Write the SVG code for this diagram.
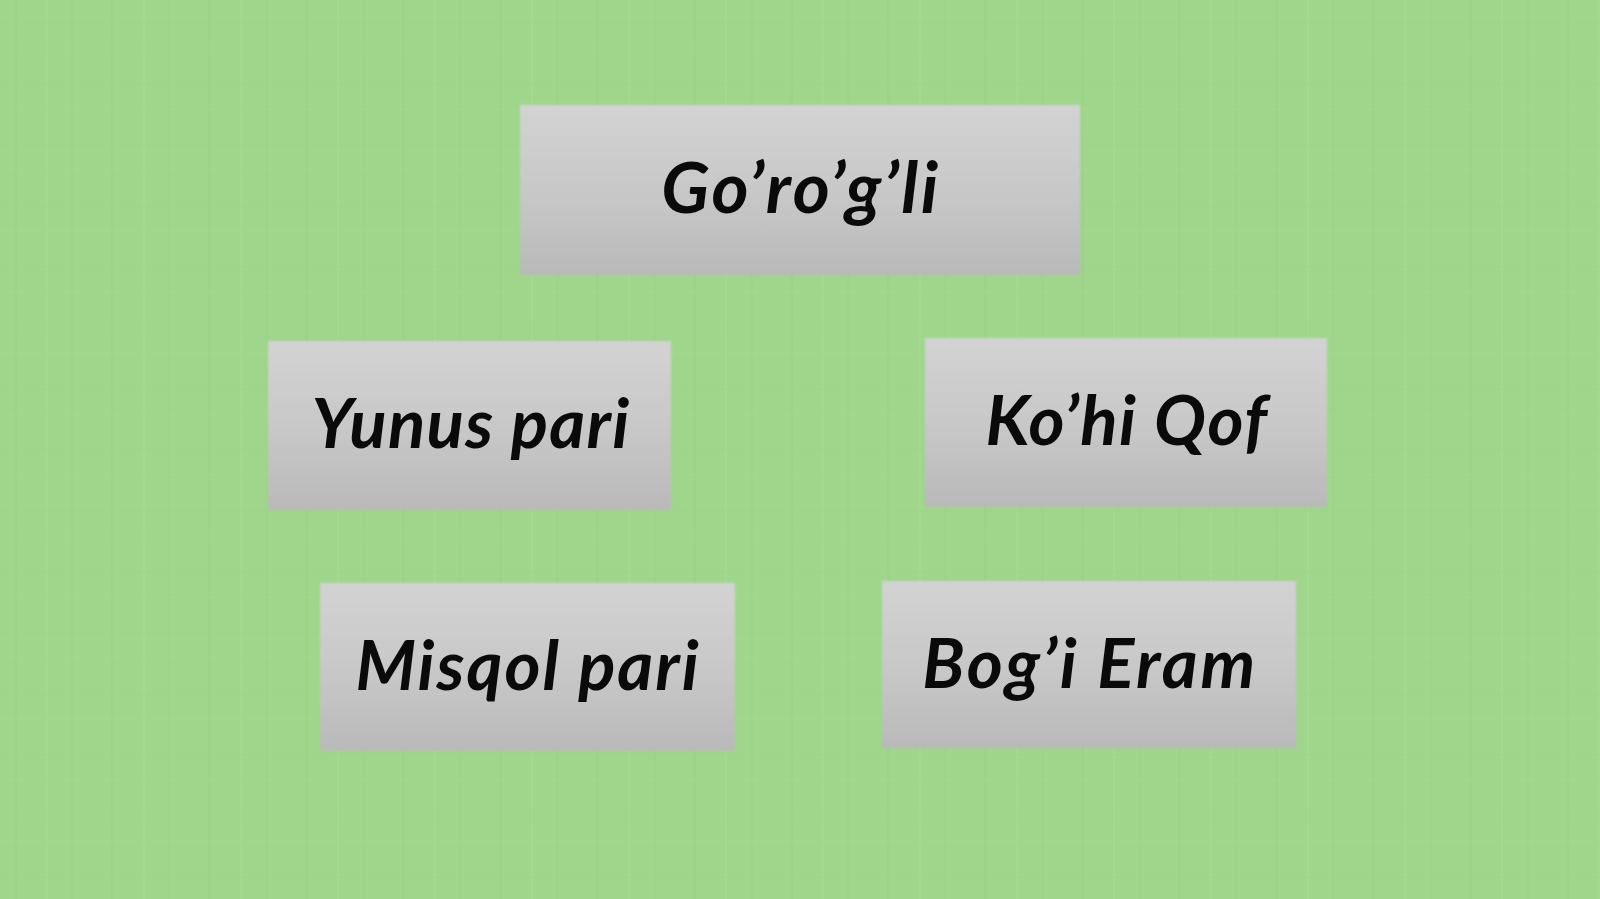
<svg xmlns="http://www.w3.org/2000/svg" width="1600" height="899" viewBox="0 0 1600 899">
  <defs>
    <linearGradient id="boxGrad" x1="0" y1="0" x2="0" y2="1">
      <stop offset="0" stop-color="#d3d3d3"/>
      <stop offset="0.55" stop-color="#c7c7c7"/>
      <stop offset="1" stop-color="#b9b9b9"/>
    </linearGradient>
    <pattern id="weave" x="0" y="0" width="97" height="61" patternUnits="userSpaceOnUse">
      <rect x="0" y="0" width="97" height="61" fill="#9ed58a"/>
      <rect x="14" y="0" width="3" height="61" fill="#93cb80" opacity="0.5"/>
      <rect x="46" y="0" width="2" height="61" fill="#a9dd96" opacity="0.6"/>
      <rect x="71" y="0" width="3" height="61" fill="#94cc81" opacity="0.4"/>
      <rect x="0" y="22" width="97" height="2" fill="#93cb80" opacity="0.25"/>
      <rect x="0" y="47" width="97" height="2" fill="#a8dc95" opacity="0.3"/>
    </pattern>
    <filter id="soft" x="-5%" y="-5%" width="110%" height="110%">
      <feGaussianBlur stdDeviation="1.2"/>
    </filter>
  </defs>
  <style>
    .box { fill: url(#boxGrad); }
    .label { font-family: Lato, "Liberation Sans", sans-serif; font-weight: bold; font-style: italic; fill: #0a0a0a; text-anchor: middle; }
  </style>
  <rect x="0" y="0" width="1600" height="899" fill="url(#weave)"/>
  <rect x="0" y="0" width="1600" height="899" fill="#9fd68b" opacity="0.45"/>

  <g id="connectors"></g>

  <g id="node-gorogli">
    <rect class="box" x="520" y="105" width="560" height="170" filter="url(#soft)"/>
    <text class="label" x="801" y="213" font-size="71" letter-spacing="2.6">Go’ro’g’li</text>
  </g>
  <g id="node-yunus-pari">
    <rect class="box" x="268" y="341" width="403" height="169" filter="url(#soft)"/>
    <text class="label" x="471" y="448" font-size="69" letter-spacing="1.3">Yunus pari</text>
  </g>
  <g id="node-kohi-qof">
    <rect class="box" x="925" y="338" width="402" height="169" filter="url(#soft)"/>
    <text class="label" x="1127" y="445" font-size="69" letter-spacing="1.5">Ko’hi Qof</text>
  </g>
  <g id="node-misqol-pari">
    <rect class="box" x="320" y="583" width="415" height="168" filter="url(#soft)"/>
    <text class="label" x="528" y="690" font-size="69" letter-spacing="2">Misqol pari</text>
  </g>
  <g id="node-bogi-eram">
    <rect class="box" x="882" y="581" width="414" height="167" filter="url(#soft)"/>
    <text class="label" x="1090" y="688" font-size="69" letter-spacing="2.7">Bog’i Eram</text>
  </g>
</svg>
